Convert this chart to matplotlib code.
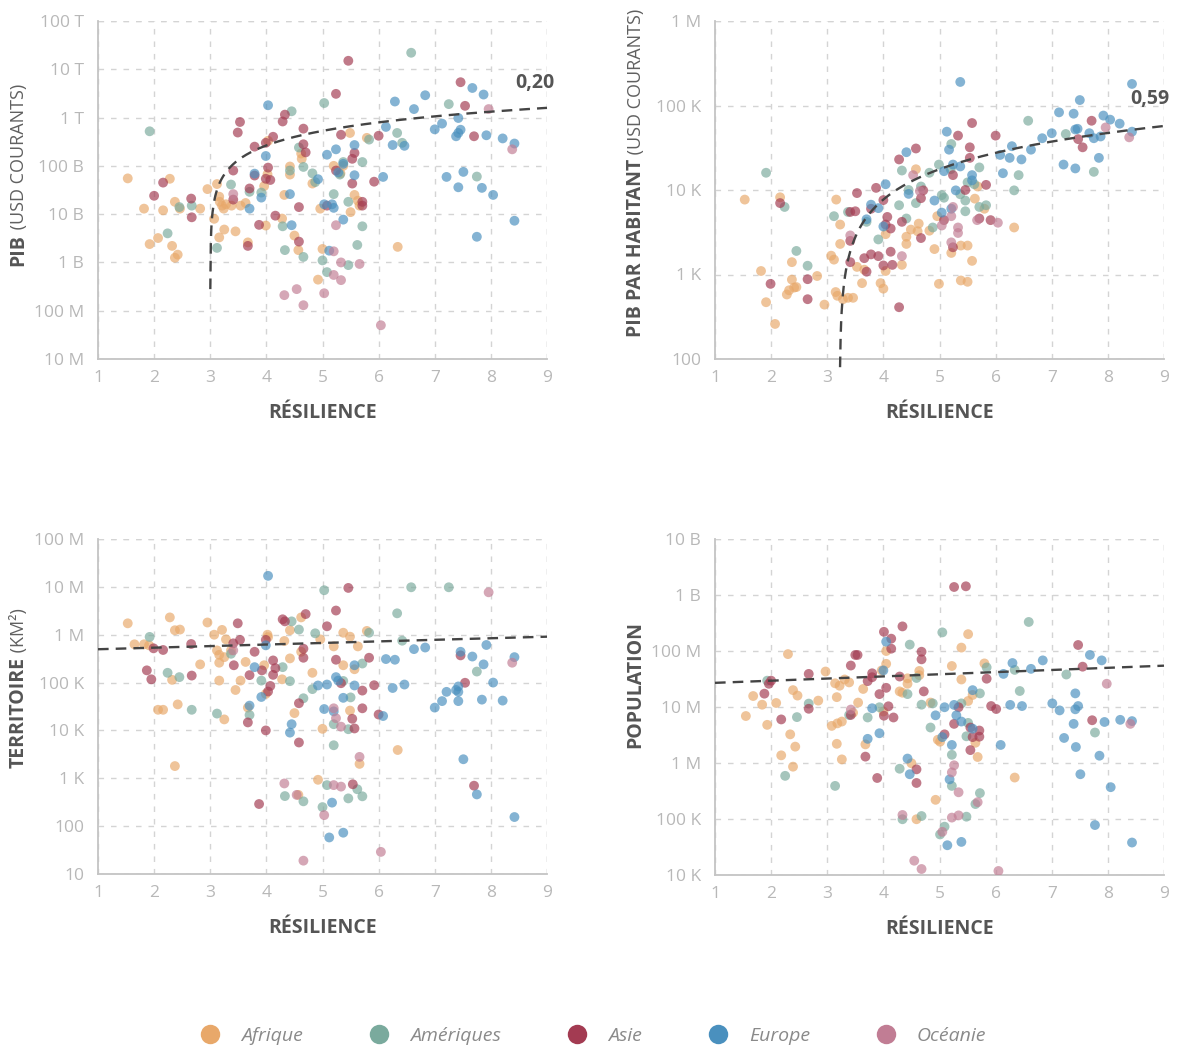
import numpy as np
import matplotlib
matplotlib.use("Agg")
import matplotlib.pyplot as plt
from matplotlib.lines import Line2D
from matplotlib.ticker import FixedLocator

regions = ["Afrique", "Amériques", "Asie", "Europe", "Océanie"]
regionColours = ["#E8A86A", "#7AAA9D", "#A33B52", "#4A90BE", "#C17D94"]

# --- PIB (USD courants) vs résilience, one list of (résilience, valeur) per région
gdpAfrique = [(1.53, 5.5e10), (1.82, 1.3e10), (1.92, 2.4e9), (2.07, 3.2e9), (2.16, 1.2e10), (2.28, 5.4e10),
              (2.32, 2.2e9), (2.37, 1.8e10), (2.37, 1.25e9), (2.42, 1.45e9), (2.46, 1.3e10), (2.82, 1.3e10),
              (2.95, 3.3e10), (3.07, 8e9), (3.12, 4.2e10), (3.16, 2.3e10), (3.17, 1.8e10), (3.16, 3.3e9),
              (3.21, 1.5e10), (3.24, 1.3e10), (3.25, 4.8e9), (3.28, 1.6e10), (3.38, 1.5e10), (3.45, 4.4e9),
              (3.54, 1.5e10), (3.63, 1.7e10), (3.67, 2.6e9), (3.96, 3.8e10), (3.99, 5.8e9), (4.02, 6.7e10),
              (4.03, 3.3e11), (4.28, 8.1e9), (4.32, 2.5e10), (4.42, 9.7e10), (4.42, 6.6e10), (4.5, 3.6e9),
              (4.57, 1.8e9), (4.62, 1.8e11), (4.63, 1.4e11), (4.82, 4.3e10), (4.92, 4.4e8), (4.96, 1.3e10),
              (5.0, 1.9e9), (5.2, 1e11), (5.32, 7e10), (5.37, 1e11), (5.49, 4.8e11), (5.5, 1.1e10),
              (5.57, 2.5e10), (5.63, 1.9e10), (5.66, 1.5e10), (5.79, 3.8e11), (6.34, 2.1e9)]
gdpAmeriques = [(1.92, 5.2e11), (2.24, 4e9), (2.45, 1.4e10), (2.67, 1.5e10), (3.12, 2e9), (3.37, 4.1e10),
                (3.70, 2.9e10), (3.91, 2.8e10), (4.29, 5.6e9), (4.33, 1.8e9), (4.42, 8e10), (4.45, 1.35e12),
                (4.58, 2.4e11), (4.66, 9.5e10), (4.66, 1.3e9), (4.82, 7e10), (4.87, 4.6e10), (5.0, 1.1e9),
                (5.03, 2e12), (5.08, 6.3e8), (5.2, 2.6e10), (5.31, 6.6e10), (5.37, 1.2e11), (5.46, 1.8e10),
                (5.46, 8.8e8), (5.62, 2.3e9), (5.71, 1.2e11), (5.71, 5.6e9), (5.83, 3.5e11), (6.33, 4.8e11),
                (6.42, 3e11), (6.58, 2.2e13), (7.25, 1.9e12), (7.75, 6e10)]
gdpAsie = [(2.0, 2.4e10), (2.16, 4.5e10), (2.66, 2.1e10), (2.67, 8.6e9), (3.41, 8e10), (3.41, 2e10),
           (3.49, 4.9e11), (3.53, 8.1e11), (3.67, 2.2e9), (3.70, 3.4e10), (3.79, 2.5e11), (3.79, 6.3e10),
           (3.87, 6e9), (3.99, 3e11), (4.03, 9.2e10), (3.99, 5.4e10), (4.07, 5.1e10), (4.12, 4e11),
           (4.16, 9.3e9), (4.29, 8.3e11), (4.33, 1.15e12), (4.58, 1.4e10), (4.58, 2.7e9), (4.66, 5.9e11),
           (4.66, 2.8e11), (4.70, 1.9e11), (5.08, 1.5e10), (5.24, 3.1e12), (5.24, 8e10), (5.33, 4.4e11),
           (5.46, 1.5e13), (5.53, 4.3e10), (5.53, 1.4e11), (5.57, 1.85e11), (5.71, 1.8e10), (5.71, 1.5e10),
           (5.92, 4.7e10), (6.0, 4.2e11), (7.46, 5.4e12), (7.54, 1.75e12), (7.70, 4.1e11)]
gdpEurope = [(3.70, 1.3e10), (3.79, 6.9e10), (3.91, 2.2e10), (3.99, 1.6e11), (4.03, 1.8e12), (4.42, 2.6e10),
             (4.45, 5.9e9), (4.92, 5.3e10), (5.03, 1.6e10), (5.08, 1.7e11), (5.12, 1.75e9), (5.17, 1.6e10),
             (5.2, 1.35e10), (5.24, 2.2e11), (5.28, 7.3e10), (5.37, 1.1e11), (5.37, 7.7e9), (5.57, 2.7e11),
             (5.57, 6.4e10), (6.08, 5.9e10), (6.13, 6.4e11), (6.25, 2.7e11), (6.29, 2.15e12), (6.46, 2.6e11),
             (6.63, 1.5e12), (6.83, 2.9e12), (7.0, 5.7e11), (7.13, 7.5e11), (7.21, 5.9e10), (7.38, 4.1e11),
             (7.42, 9.8e11), (7.42, 4.8e11), (7.42, 3.6e10), (7.46, 5.6e11), (7.51, 7.5e10), (7.67, 4.1e12),
             (7.75, 3.4e9), (7.84, 3.5e10), (7.87, 3e12), (7.92, 4.3e11), (8.04, 2.5e10), (8.21, 3.7e11),
             (8.42, 2.9e11), (8.42, 7.3e9)]
gdpOceanie = [(3.41, 2.6e10), (4.32, 2.1e8), (4.54, 2.8e8), (4.66, 1.3e8), (5.03, 2.3e8), (5.2, 1.7e9),
              (5.24, 5.9e9), (5.33, 1e9), (5.2, 5.5e8), (5.33, 4.3e8), (5.66, 9.3e8), (6.04, 5e7),
              (7.96, 1.5e12), (8.38, 2.2e11)]

# --- PIB par habitant
gdppcAfrique = [(1.53, 7.7e3), (1.82, 1.1e3), (1.91, 470), (2.07, 260), (2.16, 8.2e3), (2.28, 580), (2.32, 650),
                (2.37, 1.4e3), (2.37, 870), (2.41, 700), (2.45, 710), (2.82, 960), (2.95, 440), (3.07, 1.67e3),
                (3.12, 1.5e3), (3.16, 7.7e3), (3.15, 620), (3.18, 560), (3.23, 3.9e3), (3.23, 2.3e3), (3.28, 510),
                (3.37, 530), (3.46, 530), (3.53, 1.23e3), (3.62, 790), (3.66, 1.14e3), (3.95, 790), (4.0, 680),
                (4.04, 3e3), (4.04, 1.1e3), (4.33, 1.3e3), (4.41, 2.8e3), (4.41, 2.3e3), (4.49, 3.4e3),
                (4.58, 1.76e4), (4.61, 3.25e3), (4.63, 4e3), (4.82, 3.3e3), (4.91, 2e3), (4.96, 4.9e3),
                (4.99, 775), (5.21, 1.8e3), (5.38, 2.2e3), (5.38, 850), (5.5, 2.2e3), (5.5, 820), (5.58, 1.45e3),
                (5.63, 7.9e3), (5.68, 1.1e4), (5.8, 6e3), (6.33, 3.6e3)]
gdppcAmeriques = [(1.91, 1.6e4), (2.24, 6.3e3), (2.45, 1.9e3), (2.65, 1.27e3), (3.12, 4.9e3), (3.37, 5.5e3),
                  (3.70, 4.2e3), (3.91, 2.6e3), (4.28, 6.6e3), (4.33, 1.7e4), (4.41, 4.6e3), (4.45, 1e4),
                  (4.58, 7e3), (4.67, 1.1e4), (4.82, 1.6e4), (4.88, 3.6e3), (4.99, 2e4), (5.04, 8.7e3),
                  (5.08, 8.1e3), (5.21, 3.5e4), (5.2, 1.76e4), (5.37, 8.9e3), (5.46, 7.5e3), (5.46, 5.6e3),
                  (5.5, 1.23e4), (5.62, 1.17e4), (5.71, 1.85e4), (5.71, 6.3e3), (5.83, 6.6e3), (6.33, 9.9e3),
                  (6.41, 1.5e4), (6.58, 6.6e4), (7.25, 4.6e4), (7.75, 1.64e4)]
gdppcAsie = [(1.99, 775), (2.16, 7e3), (2.65, 880), (2.65, 510), (3.41, 5.5e3), (3.41, 2.5e3), (3.41, 1.4e3),
             (3.53, 9.2e3), (3.5, 5.6e3), (3.66, 1.56e3), (3.70, 1.08e3), (3.78, 1.73e3), (3.78, 6e3),
             (3.87, 1.06e4), (3.91, 1.65e3), (4.0, 7.6e3), (4.0, 1.28e3), (4.07, 4.8e3), (4.04, 3.9e3),
             (4.13, 3.5e3), (4.13, 1.86e3), (4.16, 1.3e3), (4.28, 2.3e4), (4.33, 4.2e3), (4.28, 410),
             (4.58, 3.1e4), (4.67, 8e3), (4.71, 9.9e3), (4.67, 2.7e3), (5.08, 4.4e3), (5.24, 1.5e4),
             (5.24, 2.1e3), (5.33, 4.4e4), (5.46, 1e4), (5.54, 3.2e4), (5.54, 2.4e4), (5.58, 6.2e4),
             (5.71, 4.6e3), (5.83, 1.15e4), (5.91, 4.4e3), (6.0, 4.4e4), (7.47, 4e4), (7.55, 3.2e4), (7.71, 6.6e4)]
gdppcEurope = [(3.70, 4.5e3), (3.78, 6.7e3), (3.91, 6.1e3), (4.0, 3.7e3), (4.04, 1.17e4), (4.41, 2.8e4),
               (4.45, 9e3), (4.91, 7.5e3), (5.04, 5.4e3), (5.08, 1.67e4), (5.13, 4.9e4), (5.17, 3e4), (5.21, 6e3),
               (5.24, 2e4), (5.29, 9.9e3), (5.37, 1.9e4), (5.37, 1.9e5), (5.58, 1.5e4), (5.58, 1.3e4),
               (6.08, 2.6e4), (6.13, 1.58e4), (6.25, 2.4e4), (6.29, 3.3e4), (6.46, 2.3e4), (6.63, 3e4),
               (6.83, 4.1e4), (7.0, 4.7e4), (7.13, 8.3e4), (7.21, 2e4), (7.39, 8e4), (7.42, 5.2e4), (7.46, 5.3e4),
               (7.42, 1.8e4), (7.5, 1.16e5), (7.67, 4.7e4), (7.75, 4.1e4), (7.84, 2.4e4), (7.87, 4.3e4),
               (7.92, 7.6e4), (8.04, 6.8e4), (8.21, 6.1e4), (8.43, 4.9e4), (8.43, 1.8e5)]
gdppcOceanie = [(3.41, 2.9e3), (4.33, 1.65e3), (4.53, 1.5e4), (4.65, 9.7e3), (5.04, 3.8e3), (5.21, 4.9e3),
                (5.21, 2.4e3), (5.33, 3.6e3), (5.33, 3.1e3), (5.24, 6.3e3), (5.67, 4.4e3), (6.04, 4.1e3),
                (7.96, 5.5e4), (8.38, 4.2e4)]

# --- Territoire (km²)
areaAfrique = [(1.53, 1.73e6), (1.65, 6.3e5), (1.82, 6.3e5), (1.91, 6e5), (2.07, 2.7e4), (2.16, 2.7e4),
               (2.28, 2.3e6), (2.32, 1.14e5), (2.37, 1.24e6), (2.46, 1.28e6), (2.42, 3.5e4), (2.37, 1.8e3),
               (2.82, 2.4e5), (2.95, 1.8e6), (3.07, 1e6), (3.12, 4.7e5), (3.16, 3.8e5), (3.16, 2.6e5),
               (3.16, 1.1e5), (3.21, 1.26e6), (3.25, 3.4e5), (3.25, 1.7e4), (3.28, 8e5), (3.37, 4.7e5),
               (3.45, 7e4), (3.54, 1.1e5), (3.63, 2.7e5), (3.67, 3e4), (3.96, 2.3e5), (4.02, 1e6), (4.03, 8.9e5),
               (3.99, 5.8e4), (4.32, 7.4e5), (4.28, 1.17e5), (4.42, 1.24e6), (4.42, 3.2e5), (4.5, 2.3e4),
               (4.57, 450), (4.62, 2.3e6), (4.62, 4.4e5), (4.82, 1.6e5), (4.92, 930), (4.96, 8e5), (5.0, 1.08e4),
               (5.2, 5.7e5), (5.37, 1.1e6), (5.37, 2.3e5), (5.49, 9.1e5), (5.49, 2.6e4), (5.57, 1.9e5),
               (5.63, 5.7e5), (5.66, 2e3), (5.79, 1.2e6), (6.34, 3.9e3)]
areaAmeriques = [(1.92, 9e5), (2.24, 1.6e5), (2.45, 1.3e5), (2.67, 2.7e4), (3.12, 2.25e4), (3.37, 4e5),
                 (3.70, 2.1e4), (3.91, 1.1e5), (4.29, 2.1e5), (4.33, 425), (4.42, 1.07e5), (4.45, 1.9e6),
                 (4.58, 1.28e6), (4.66, 4.7e4), (4.66, 330), (4.82, 7.3e4), (4.87, 1.07e6), (5.0, 250),
                 (5.03, 8.5e6), (5.08, 720), (5.2, 1.35e4), (5.2, 4.9e3), (5.37, 1.08e5), (5.46, 1.06e4),
                 (5.46, 380), (5.5, 4.9e4), (5.62, 590), (5.71, 2.5e5), (5.71, 420), (5.83, 1.1e6), (6.33, 2.8e6),
                 (6.42, 7.5e5), (6.58, 9.8e6), (7.25, 9.8e6), (7.75, 1.7e5)]
areaAsie = [(1.87, 1.8e5), (1.95, 1.17e5), (1.99, 5.2e5), (2.16, 4.8e5), (2.66, 6.4e5), (2.67, 1.4e5),
            (3.41, 6.6e5), (3.42, 2.3e5), (3.49, 1.73e6), (3.53, 7.8e5), (3.67, 1.47e4), (3.70, 1.43e5),
            (3.79, 4.4e5), (3.87, 290), (3.92, 1.8e5), (3.99, 7.8e5), (3.99, 1e4), (4.03, 6.5e4), (4.07, 8.5e4),
            (4.12, 2.9e5), (4.12, 1.45e5), (4.16, 2e5), (4.29, 2.1e6), (4.33, 1.9e6), (4.58, 3.7e4),
            (4.58, 5.6e3), (4.66, 5.1e5), (4.66, 3.3e5), (4.70, 2.7e6), (5.08, 1.5e6), (5.24, 3.2e6),
            (5.24, 3e5), (5.33, 9.7e4), (5.46, 9.5e6), (5.53, 1.75e4), (5.57, 1.1e4), (5.54, 750), (5.71, 6.8e4),
            (5.71, 2.9e4), (5.83, 3.3e5), (5.92, 8.8e4), (6.0, 2.15e4), (7.46, 3.7e5), (7.54, 9.9e4), (7.70, 700)]
areaEurope = [(3.70, 3.3e4), (3.79, 2.1e5), (3.91, 5e4), (3.99, 6e5), (4.03, 1.7e7), (4.42, 9e3), (4.45, 1.35e4),
              (4.92, 8.7e4), (5.03, 2.8e4), (5.08, 9.1e4), (5.17, 310), (5.12, 58), (5.2, 2.5e4), (5.24, 1.3e5),
              (5.28, 1.1e5), (5.37, 4.8e4), (5.37, 73), (5.57, 2.3e5), (5.57, 8.7e4), (6.08, 2e4), (6.13, 3.1e5),
              (6.25, 7.7e4), (6.29, 3e5), (6.46, 9.1e4), (6.63, 5e5), (6.83, 5.4e5), (7.0, 3e4), (7.13, 4.1e4),
              (7.21, 6.4e4), (7.38, 7e4), (7.42, 8.3e4), (7.42, 6.4e4), (7.42, 4.1e4), (7.46, 4.4e5),
              (7.51, 2.5e3), (7.67, 3.5e5), (7.75, 460), (7.84, 4.4e4), (7.87, 2.4e5), (7.92, 6.1e5),
              (8.04, 1e5), (8.21, 4.2e4), (8.42, 3.4e5), (8.42, 155)]
areaOceanie = [(3.41, 4.7e5), (4.32, 780), (4.54, 450), (4.66, 19), (5.03, 170), (5.2, 2.9e4), (5.24, 1.8e4),
               (5.33, 1.2e4), (5.2, 720), (5.33, 670), (5.66, 2.8e3), (6.04, 29), (7.96, 7.7e6), (8.38, 2.6e5)]

# --- Population
popAfrique = [(1.55, 6.9e6), (1.68, 1.57e7), (1.84, 1.1e7), (1.93, 4.8e6), (2.09, 1.18e7), (2.18, 1.37e6),
              (2.30, 8.8e7), (2.34, 3.25e6), (2.39, 2e7), (2.39, 8.6e5), (2.43, 1.96e6), (2.47, 1.6e7),
              (2.84, 1.3e7), (2.97, 4.3e7), (3.08, 4.6e6), (3.14, 2.65e7), (3.17, 1.5e7), (3.17, 2.2e6),
              (3.18, 5.1e6), (3.22, 2.4e7), (3.26, 5.5e6), (3.26, 1.16e6), (3.31, 3.1e7), (3.39, 2.75e7),
              (3.46, 7.9e6), (3.55, 1.2e7), (3.64, 2.1e7), (3.68, 2.15e6), (3.97, 4.5e7), (4.0, 8.3e6),
              (4.05, 1e8), (4.05, 5.9e7), (4.29, 1.9e7), (4.34, 1.8e7), (4.43, 3.25e7), (4.43, 2.6e7),
              (4.5, 9.9e5), (4.59, 9.9e4), (4.64, 4.4e7), (4.64, 3.7e7), (4.84, 1.2e7), (4.93, 2.2e5),
              (4.97, 2.6e6), (5.01, 2.4e6), (5.22, 5.4e7), (5.39, 3.1e7), (5.39, 1.15e8), (5.51, 2e8),
              (5.51, 1.28e7), (5.59, 1.64e7), (5.64, 2.3e6), (5.68, 1.28e6), (5.8, 6e7), (6.34, 5.5e5)]
popAmeriques = [(1.93, 2.95e7), (2.25, 5.9e5), (2.46, 6.6e6), (2.67, 1.15e7), (3.14, 3.9e5), (3.39, 7.2e6),
                (3.72, 6.5e6), (3.93, 9.9e6), (4.29, 7.9e5), (4.34, 9.9e4), (4.43, 1.7e7), (4.47, 1.3e8),
                (4.59, 3.3e7), (4.68, 1.1e7), (4.68, 1.13e5), (4.84, 4.3e6), (4.88, 1.16e7), (5.01, 5.3e4),
                (5.05, 2.15e8), (5.09, 7.3e4), (5.22, 1.4e6), (5.22, 3.9e5), (5.39, 1.16e7), (5.48, 3e6),
                (5.51, 5.2e6), (5.48, 1.1e5), (5.64, 1.85e5), (5.72, 1.75e7), (5.72, 2.9e5), (5.84, 5.1e7),
                (6.34, 4.6e7), (6.43, 1.93e7), (6.59, 3.3e8), (7.26, 3.8e7), (7.77, 3.5e6)]
popAsie = [(1.88, 1.73e7), (1.96, 2.6e7), (2.0, 2.95e7), (2.18, 6e6), (2.67, 3.9e7), (2.67, 9.3e6), (3.42, 5.5e7),
           (3.5, 8.5e7), (3.54, 8.5e7), (3.42, 7.2e6), (3.68, 1.3e6), (3.72, 2.9e7), (3.8, 4e7), (3.8, 3.4e7),
           (3.89, 5.4e5), (3.93, 1.7e7), (4.01, 2.2e8), (4.01, 7e6), (4.05, 2.2e7), (4.09, 1.03e7),
           (4.14, 1.66e8), (4.14, 1.1e8), (4.18, 6.5e6), (4.29, 3.5e7), (4.34, 2.75e8), (4.59, 7.7e5),
           (4.59, 4.4e5), (4.68, 9.7e7), (4.68, 7.1e7), (4.72, 1.9e7), (5.09, 3.25e6), (5.26, 1.39e9),
           (5.26, 5e6), (5.34, 9.9e6), (5.47, 1.43e9), (5.55, 4.3e6), (5.55, 1.7e6), (5.59, 2.9e6),
           (5.71, 3.8e6), (5.71, 2.95e6), (5.84, 3.2e7), (5.92, 1.04e7), (6.01, 9.2e6), (7.47, 1.28e8),
           (7.55, 5.25e7), (7.72, 5.8e6)]
popEurope = [(3.72, 2.7e6), (3.8, 9.5e6), (3.93, 3.4e6), (4.0, 4.5e7), (4.05, 1.47e8), (4.43, 1.2e6),
             (4.47, 6.3e5), (4.93, 7.1e6), (5.05, 2.9e6), (5.09, 9.9e6), (5.14, 3.4e4), (5.18, 5.1e5),
             (5.22, 2.1e6), (5.26, 1.09e7), (5.3, 7.1e6), (5.39, 5.5e6), (5.39, 3.9e4), (5.59, 2e7), (5.59, 4.1e6),
             (6.09, 2.1e6), (6.14, 3.9e7), (6.26, 1.09e7), (6.3, 6.1e7), (6.47, 1.04e7), (6.63, 4.8e7),
             (6.84, 6.8e7), (7.01, 1.16e7), (7.14, 8.7e6), (7.22, 2.8e6), (7.39, 5e6), (7.42, 9.1e6),
             (7.42, 1.75e7), (7.43, 1.93e6), (7.47, 1.04e7), (7.51, 6.3e5), (7.68, 8.5e7), (7.77, 7.8e4),
             (7.85, 1.35e6), (7.89, 6.8e7), (7.94, 5.4e6), (8.05, 3.7e5), (8.22, 5.9e6), (8.43, 5.6e6),
             (8.43, 3.8e4)]
popOceanie = [(3.42, 9e6), (4.34, 1.18e5), (4.55, 1.8e4), (4.68, 1.28e4), (5.05, 5.9e4), (5.22, 6.8e5),
              (5.26, 9.1e5), (5.22, 1.06e5), (5.34, 1.16e5), (5.34, 3e5), (5.68, 2e5), (6.05, 1.18e4),
              (7.98, 2.6e7), (8.4, 5e6)]

# trend lines
gdpTrend = ("linear", 2.65e11, 3.0, 2.8e8)      # slope, zero crossing, first value drawn
gdppcTrend = ("linear", 9.9e3, 3.22, 80)
areaTrend = ("exp", 4.97e5, 9.1e5)              # value at x=1, value at x=9
popTrend = ("exp", 2.7e7, 5.47e7)
gdpR2 = "0,20"
gdppcR2 = "0,59"

xTicks = [1, 2, 3, 4, 5, 6, 7, 8, 9]
gdpTicks = [1e7, 1e8, 1e9, 1e10, 1e11, 1e12, 1e13, 1e14]
gdpTickLabels = ["10 M", "100 M", "1 B", "10 B", "100 B", "1 T", "10 T", "100 T"]
gdppcTicks = [1e2, 1e3, 1e4, 1e5, 1e6]
gdppcTickLabels = ["100", "1 K", "10 K", "100 K", "1 M"]
areaTicks = [1e1, 1e2, 1e3, 1e4, 1e5, 1e6, 1e7, 1e8]
areaTickLabels = ["10", "100", "1 K", "10 K", "100 K", "1 M", "10 M", "100 M"]
popTicks = [1e4, 1e5, 1e6, 1e7, 1e8, 1e9, 1e10]
popTickLabels = ["10 K", "100 K", "1 M", "10 M", "100 M", "1 B", "10 B"]

FONT = "Open Sans"
GRID = "#d4d4d4"
TICKCOL = "#b8b8b8"
LABELCOL = "#555555"
W, H = 1177, 1048


def drawPanel(ax, series, ticks, tickLabels, boldLabel, lightLabel, labelBottom, trend, r2=None, r2Pos=None):
    for (name, colour), pts in zip(zip(regions, regionColours), series):
        xs = [p[0] for p in pts]
        ys = [p[1] for p in pts]
        ax.scatter(xs, ys, s=50, color=colour, alpha=0.68, edgecolors="none", zorder=3)

    if trend[0] == "linear":
        _, slope, x0, yStart = trend
        xs = np.linspace(x0 + yStart / slope, 9, 600)
        ys = slope * (xs - x0)
    else:
        _, y1, y9 = trend
        b = np.log(y9 / y1) / 8
        xs = np.linspace(1, 9, 50)
        ys = y1 * np.exp(b * (xs - 1))
    ax.plot(xs, ys, color="#444444", lw=1.7, dashes=(4.5, 3), zorder=4, clip_on=False)

    ax.set_yscale("log")
    ax.set_xlim(1, 9)
    ax.set_ylim(ticks[0], ticks[-1])
    ax.yaxis.set_major_locator(FixedLocator(ticks))
    ax.yaxis.set_minor_locator(FixedLocator([]))
    ax.set_yticklabels(tickLabels)
    ax.set_xticks(xTicks)
    ax.set_xticklabels([str(t) for t in xTicks])
    ax.tick_params(length=0, labelsize=12.5, labelcolor=TICKCOL)
    ax.tick_params(axis="y", pad=10)
    ax.tick_params(axis="x", pad=8)
    for lab in ax.get_xticklabels() + ax.get_yticklabels():
        lab.set_fontfamily(FONT)

    ax.grid(True, color=GRID, lw=1.0, dashes=(4, 5))
    for s in ["top", "right"]:
        ax.spines[s].set_visible(False)
    for s in ["left", "bottom"]:
        ax.spines[s].set_color("#c4c4c4")
        ax.spines[s].set_linewidth(1.3)
    ax.axvline(9, color=GRID, lw=1.0, dashes=(4, 5), zorder=1)
    ax.axhline(ticks[-1], color=GRID, lw=1.0, dashes=(4, 5), zorder=1)

    ax.set_xlabel("RÉSILIENCE", fontfamily=FONT, fontweight="bold", fontsize=14,
                  color=LABELCOL, labelpad=12)

    t1 = ax.text(-0.177, labelBottom, boldLabel, rotation=90, transform=ax.transAxes,
                 ha="center", va="bottom", fontfamily=FONT, fontweight="bold",
                 fontsize=14, color=LABELCOL)
    if lightLabel:
        ax.annotate(lightLabel, xy=(0.5, 1.0), xycoords=t1, rotation=90, ha="center", va="bottom",
                    fontfamily=FONT, fontsize=13, color="#606060")

    if r2:
        ax.text(r2Pos[0], r2Pos[1], r2, transform=ax.transAxes, ha="center", va="center",
                fontfamily=FONT, fontweight="bold", fontsize=14, color=LABELCOL)


fig = plt.figure(figsize=(W / 100, H / 100), dpi=100)
fig.patch.set_facecolor("white")


def axesAt(left, top, right, bottom):
    return fig.add_axes([left / W, 1 - bottom / H, (right - left) / W, (bottom - top) / H])


ax1 = axesAt(98, 21, 547, 359)
ax2 = axesAt(715, 21, 1164, 359)
ax3 = axesAt(98, 539, 547, 874)
ax4 = axesAt(715, 539, 1164, 875)

drawPanel(ax1, [gdpAfrique, gdpAmeriques, gdpAsie, gdpEurope, gdpOceanie], gdpTicks, gdpTickLabels,
          "PIB", " (USD COURANTS)", 0.275, gdpTrend, gdpR2, (0.973, 0.817))
drawPanel(ax2, [gdppcAfrique, gdppcAmeriques, gdppcAsie, gdppcEurope, gdppcOceanie], gdppcTicks,
          gdppcTickLabels, "PIB PAR HABITANT", " (USD COURANTS)", 0.065, gdppcTrend, gdppcR2, (0.969, 0.769))
drawPanel(ax3, [areaAfrique, areaAmeriques, areaAsie, areaEurope, areaOceanie], areaTicks, areaTickLabels,
          "TERRITOIRE", " (KM²)", 0.316, areaTrend)
drawPanel(ax4, [popAfrique, popAmeriques, popAsie, popEurope, popOceanie], popTicks, popTickLabels,
          "POPULATION", None, 0.378, popTrend)

handles = [Line2D([], [], marker="o", linestyle="", markersize=14, markerfacecolor=c,
                  markeredgecolor="none") for c in regionColours]
fig.legend(handles, regions, loc="center", bbox_to_anchor=(0.5, 1 - 1036 / H), ncol=5, frameon=False,
           prop={"family": FONT, "style": "italic", "size": 14},
           labelcolor="#8a8a8a", columnspacing=2.9, handletextpad=0.6)

fig.savefig("out.png", dpi=100, facecolor="white")
